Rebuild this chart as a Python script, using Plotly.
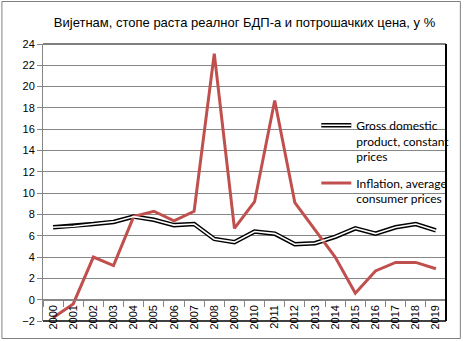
import plotly.graph_objects as go

years = [str(y) for y in range(2000, 2020)]
gdp = [6.8, 6.9, 7.1, 7.3, 7.8, 7.5, 7.0, 7.1, 5.7, 5.4, 6.4, 6.2, 5.2, 5.3, 5.9, 6.7, 6.2, 6.8, 7.1, 6.5]
inflation = [-1.7, -0.4, 4.0, 3.2, 7.8, 8.3, 7.4, 8.3, 23.1, 6.7, 9.2, 18.7, 9.1, 6.6, 4.0, 0.6, 2.7, 3.5, 3.5, 2.9]
y_ticks = list(range(-2, 26, 2))

gdp_name = "Gross domestic<br>product, constant<br>prices"
infl_name = "Inflation, average<br>consumer prices"

W, H = 467, 341
L, R, T, B = 43, 17, 44, 20
pw, ph = W - L - R, H - T - B

GRID = "#878787"
FONT = "Liberation Sans"
LEG_FONT = "Lato"

fig = go.Figure()
# double line for GDP: black outline with a white core
fig.add_trace(go.Scatter(x=years, y=gdp, mode="lines", name=gdp_name,
                         line=dict(color="black", width=4.5),
                         legendgroup="a", legend="legend"))
fig.add_trace(go.Scatter(x=years, y=inflation, mode="lines", name=infl_name,
                         line=dict(color="#C0504D", width=3),
                         legendgroup="b", legend="legend"))
fig.add_trace(go.Scatter(x=years, y=gdp, mode="lines", name=gdp_name,
                         line=dict(color="white", width=1.6),
                         legend="legend2"))

legend_common = dict(x=(319 - L) / pw, y=1 - (111 - T) / ph, xanchor="left", yanchor="top",
                     bgcolor="rgba(0,0,0,0)", valign="top", tracegroupgap=8,
                     traceorder="grouped", itemwidth=30,
                     font=dict(family=LEG_FONT, size=12, color="black"))
l2 = dict(legend_common)
l2["font"] = dict(family=LEG_FONT, size=12, color="rgba(0,0,0,0)")

fig.update_layout(
    width=W, height=H,
    margin=dict(l=L, r=R, t=T, b=B),
    paper_bgcolor="white", plot_bgcolor="white",
    title=dict(text="Вијетнам, стопе раста реалног БДП-а и потрошачких цена, у %",
               x=0.5, xref="paper", y=1 - 22 / H, yanchor="middle",
               font=dict(family=FONT, size=13, color="black")),
    legend=legend_common,
    legend2=l2,
    xaxis=dict(type="category", categoryorder="array", categoryarray=years,
               range=[-0.5, 19.5], anchor="free", position=2 / 26,
               tickson="boundaries", ticks="outside", ticklen=6, tickcolor=GRID,
               showline=True, linecolor=GRID, linewidth=1,
               showgrid=False, tickangle=-90,
               tickfont=dict(family=FONT, size=11, color="black")),
    yaxis=dict(range=[-2, 24], tickvals=y_ticks, ticks="outside", ticklen=5,
               tickcolor=GRID, showline=True, linecolor=GRID,
               showgrid=True, gridcolor=GRID, gridwidth=1,
               zeroline=True, zerolinecolor=GRID,
               tickfont=dict(family=FONT, size=11, color="black")),
    shapes=[
        # plot area edges
        dict(type="line", xref="paper", yref="paper", x0=0, x1=1, y0=1, y1=1,
             line=dict(color="black", width=1)),
        dict(type="line", xref="paper", yref="paper", x0=1, x1=1, y0=0, y1=1,
             line=dict(color="black", width=2)),
        dict(type="line", xref="paper", yref="paper", x0=0, x1=1, y0=0, y1=0,
             line=dict(color="black", width=1.5)),
        # chart frame
        dict(type="rect", xref="paper", yref="paper",
             x0=-(L - 1.5) / pw, x1=(W - L - 2.5) / pw,
             y0=-(B - 2.5) / ph, y1=1 + (T - 1.5) / ph,
             line=dict(color="#808080", width=1), layer="below"),
    ],
)

fig.write_html("out.html")
